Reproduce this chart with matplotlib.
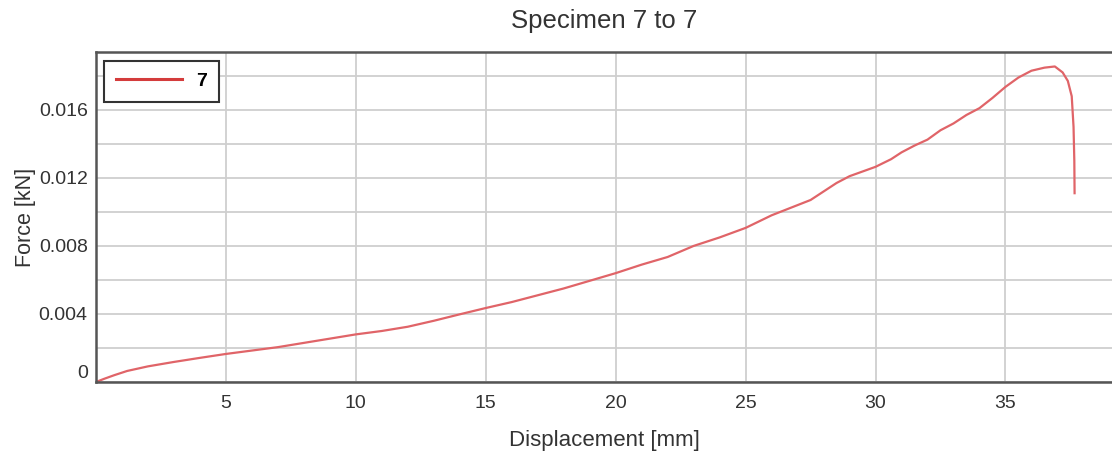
import numpy as np
import matplotlib
matplotlib.use("Agg")
import matplotlib.pyplot as plt
from matplotlib.ticker import MultipleLocator, FixedLocator
from matplotlib.transforms import ScaledTranslation

plt.rcParams['font.family'] = ['Liberation Sans', 'DejaVu Sans']

# specimen 7: displacement [mm] vs force [kN]
displacement = [0, 0.3, 0.7, 1.2, 2, 3, 4, 5, 6, 7, 8, 9, 10, 11, 12, 13, 14, 15,
                16, 17, 18, 19, 20, 21, 22, 23, 24, 25, 26, 26.5, 27, 27.5, 28,
                28.5, 29, 30, 30.6, 31, 31.5, 32, 32.5, 33, 33.5, 34, 34.5, 35,
                35.5, 36, 36.5, 36.9, 37.2, 37.4, 37.55, 37.62, 37.65, 37.66]
force = [0, 0.00018, 0.0004, 0.00065, 0.00092, 0.00118, 0.00142, 0.00165,
         0.00185, 0.00205, 0.0023, 0.00255, 0.0028, 0.003, 0.00325, 0.0036,
         0.00398, 0.00435, 0.0047, 0.0051, 0.0055, 0.00595, 0.0064, 0.0069,
         0.00735, 0.008, 0.0085, 0.00906, 0.0098, 0.0101, 0.0104, 0.0107,
         0.0112, 0.0117, 0.0121, 0.01265, 0.0131, 0.0135, 0.0139, 0.01425,
         0.0148, 0.0152, 0.0157, 0.0161, 0.0167, 0.01735, 0.0179, 0.0183,
         0.01848, 0.01855, 0.0182, 0.0177, 0.0168, 0.0150, 0.0130, 0.0111]
series_name = "7"

x_ticks = [5, 10, 15, 20, 25, 30, 35]
y_ticks = [0, 0.004, 0.008, 0.012, 0.016]
y_tick_labels = ["0", "0.004", "0.008", "0.012", "0.016"]

fig = plt.figure(figsize=(11.12, 4.55), dpi=100)
ax = fig.add_axes([0.0863, 0.1604, 0.9137, 0.7253])

ax.plot(displacement, force, color="#e06468", linewidth=1.6, label=series_name)

ax.set_xlim(0, 39.1)
ax.set_ylim(0, 0.0194)

ax.xaxis.set_major_locator(FixedLocator(x_ticks))
ax.yaxis.set_major_locator(FixedLocator(y_ticks))
ax.set_yticklabels(y_tick_labels)
ax.yaxis.set_minor_locator(MultipleLocator(0.002))

ax.grid(True, which="major", color="#cfcfcf", linewidth=1.3)
ax.grid(True, which="minor", axis="y", color="#cfcfcf", linewidth=1.3)
ax.set_axisbelow(True)

ax.tick_params(axis="both", which="both", length=0, labelsize=14, labelcolor="#333333")
ax.tick_params(axis="x", pad=9)
ax.tick_params(axis="y", pad=6)

# lift the zero label a little off the bottom edge
for lbl in ax.get_yticklabels():
    if lbl.get_text() == "0":
        lbl.set_transform(lbl.get_transform() + ScaledTranslation(0, 11 / 100, fig.dpi_scale_trans))

for side in ["left", "top", "bottom"]:
    ax.spines[side].set_color("#555555")
    ax.spines[side].set_linewidth(1.8)
ax.spines["right"].set_visible(False)

ax.set_title("Specimen 7 to 7", fontsize=18.5, color="#333333", pad=17)
ax.set_xlabel("Displacement [mm]", fontsize=16, color="#333333", labelpad=13)
ax.set_ylabel("Force [kN]", fontsize=15.5, color="#333333", labelpad=2)

leg = ax.legend(loc="upper left", bbox_to_anchor=(0.0079, 0.973), borderaxespad=0,
                fancybox=False, framealpha=1, edgecolor="#333333", handlelength=3.4,
                borderpad=0.6, handletextpad=0.75, prop={"size": 14, "weight": "bold"})
leg.get_frame().set_linewidth(1.5)
leg.get_lines()[0].set_color("#d43c3c")
leg.get_lines()[0].set_linewidth(2.2)

plt.savefig("out.png", dpi=100)
